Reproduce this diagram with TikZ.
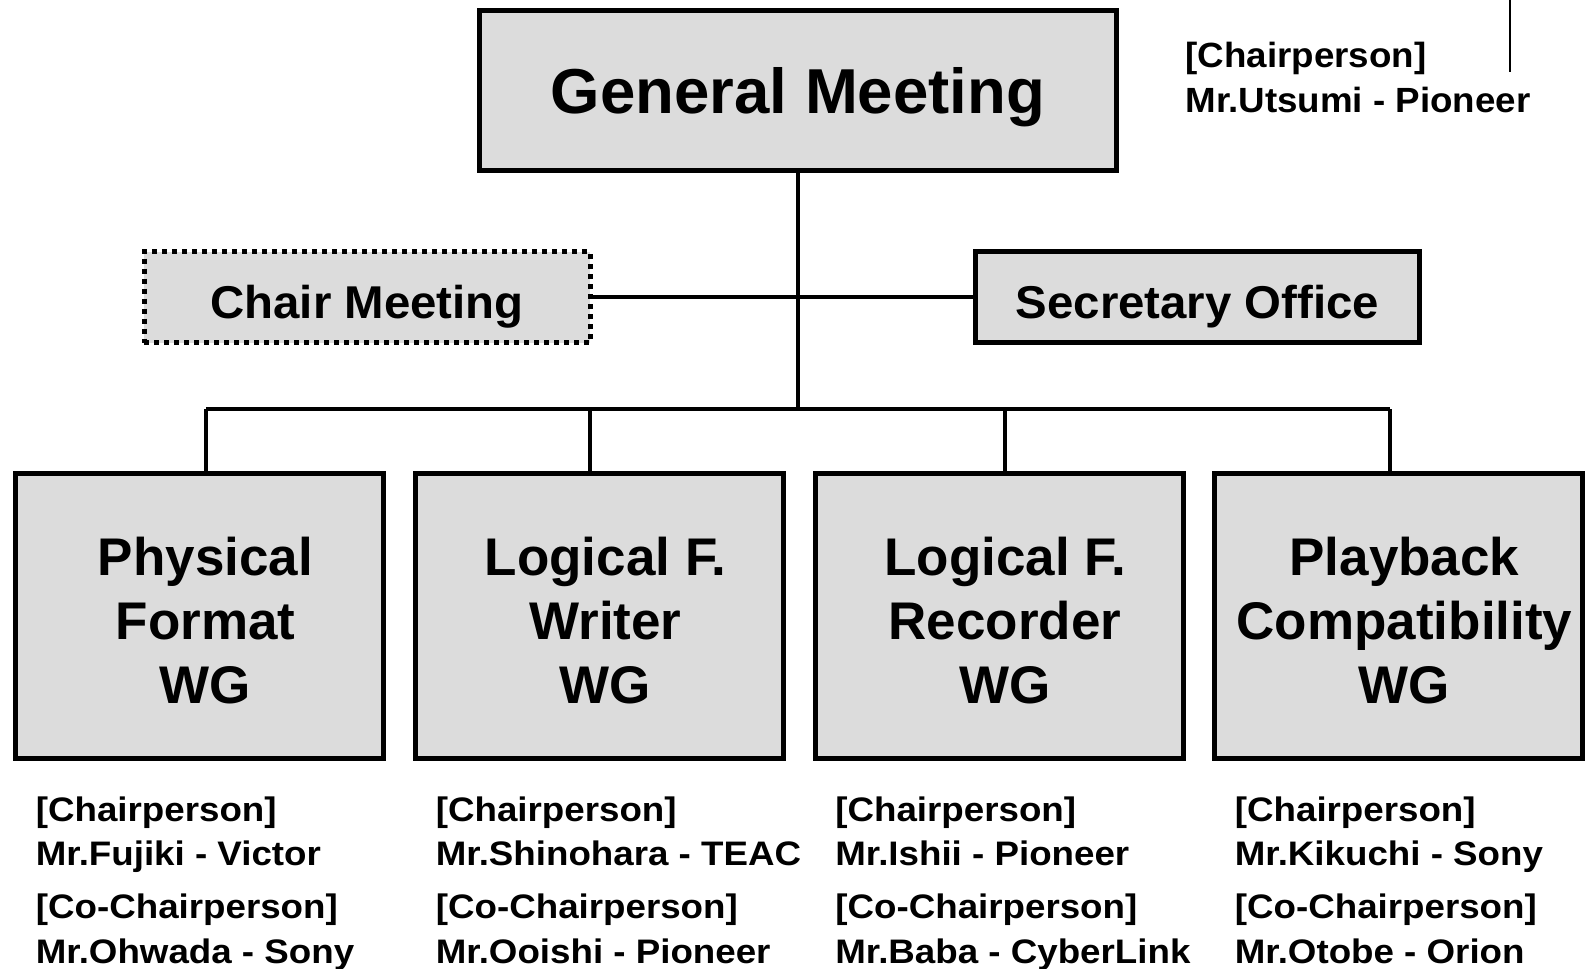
\documentclass[tikz,border=0pt]{standalone}
\usepackage{fontspec}
\setmainfont{Liberation Sans}
\newfontfamily\gmfont{Liberation Sans}
\newfontfamily\wgfont{Liberation Sans}
\newfontfamily\midfont[FakeStretch=1.03]{Liberation Sans}
\newfontfamily\namefont[FakeStretch=1.08]{Liberation Sans}
\newfontfamily\topfont[FakeStretch=1.05]{Liberation Sans}
\definecolor{boxgray}{RGB}{220,220,220}

\begin{document}
\begin{tikzpicture}[x=0.5pt,y=-0.5pt,
    frame/.style={draw,fill=boxgray,line width=2.5pt,inner sep=0pt},
    box/.style={frame,text depth=0pt},
    dotbox/.style={box,dash pattern=on 2.5pt off 2.5pt},
    wgbox/.style={frame,minimum width=184pt,minimum height=142.5pt},
    wgtext/.style={align=center,inner sep=0pt,font=\wgfont\bfseries\fontsize{26.5}{32}\selectfont},
    midtext/.style={text height=21pt,font=\midfont\bfseries\fontsize{23}{28}\selectfont},
    link/.style={line width=2pt},
    names/.style={anchor=base west,inner sep=0pt,font=\namefont\bfseries\fontsize{17}{20}\selectfont}]
    \fill[white] (0,0) rectangle (1586,969);
    \useasboundingbox (0,0) rectangle (1586,969);

    \node[box,minimum width=318.5pt,minimum height=80pt,
        font=\gmfont\bfseries\fontsize{31.75}{38}\selectfont] (gm) at (798,90) {General Meeting};
    \node[anchor=base west,inner sep=0pt,font=\topfont\bfseries\fontsize{17.5}{21}\selectfont]
        (gmchairlbl) at (1185,68) {[Chairperson]};
    \node[anchor=base west,inner sep=0pt,font=\topfont\bfseries\fontsize{17.5}{21}\selectfont]
        (gmchairname) at (1185,112) {Mr.Utsumi - Pioneer};
    \coordinate (ticktop) at (1510,0);
    \coordinate (tickend) at (1510,72);
    \draw[line width=1pt] (ticktop) -- (tickend);

    \node[dotbox,midtext,minimum width=223pt,minimum height=45.5pt] (chair) at (367,297) {Chair Meeting};
    \node[box,midtext,minimum width=222pt,minimum height=45.5pt] (sec) at (1197.5,297) {Secretary Office};
    \draw[link] (chair.east) -- (sec.west);

    \foreach \i/\cx/\dx/\title/\cname/\coname in {
        1/199.5/206/{Physical\\Format\\WG}/{Mr.Fujiki - Victor}/{Mr.Ohwada - Sony},
        2/599.5/590/{Logical F.\\Writer\\WG}/{Mr.Shinohara - TEAC}/{Mr.Ooishi - Pioneer},
        3/999/1005/{Logical F.\\Recorder\\WG}/{Mr.Ishii - Pioneer}/{Mr.Baba - CyberLink},
        4/1398.5/1390/{Playback\\Compatibility\\WG}/{Mr.Kikuchi - Sony}/{Mr.Otobe - Orion}}{
        \node[wgbox] (wg\i) at (\cx,615.5) {};
        \node[wgtext] (wgt\i) at ({\cx+6},621) {\title};
        \coordinate (drop\i) at (\dx,409);
        \draw[link] (drop\i) -- (drop\i |- wg\i.north);
        \node[names] (chairlbl\i) at ({\cx-164},821) {[Chairperson]};
        \node[names] (chairname\i) at ({\cx-164},865) {\cname};
        \node[names] (colbl\i) at ({\cx-164},918) {[Co-Chairperson]};
        \node[names] (coname\i) at ({\cx-164},963) {\coname};
    }
    \draw[link] (drop1) -- (drop4);
    \draw[link] (gm.south) -- (gm.south |- drop1);
\end{tikzpicture}
\end{document}
